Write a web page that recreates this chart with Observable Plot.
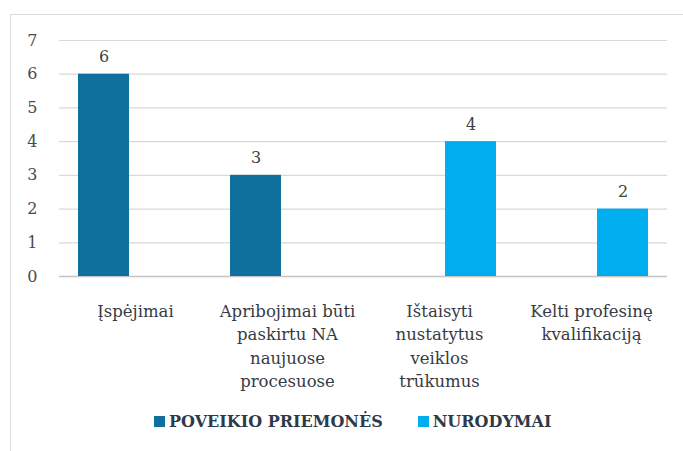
<!DOCTYPE html>
<html>
<head>
<meta charset="utf-8">
<script src="https://cdn.jsdelivr.net/npm/d3@7"></script>
<script src="https://cdn.jsdelivr.net/npm/@observablehq/plot@0.6"></script>
<style>
  html, body { margin: 0; padding: 0; background: #fff; }
  body { width: 683px; height: 451px; position: relative; overflow: hidden; font-family: "DejaVu Serif", serif; }
  #frame { position: absolute; left: 10px; top: 14px; width: 700px; height: 460px; border-top: 1px solid #dcdcdc; border-left: 1px solid #dcdcdc; }
  #chart { position: absolute; left: 0; top: 0; }
  #legend { position: absolute; left: 154px; top: 412px; display: flex; align-items: center; font-weight: bold; font-size: 16px; color: #2e3a4a; white-space: nowrap; }
  #legend .sw { display: inline-block; width: 11px; height: 11px; margin-right: 4px; }
  #legend .item { display: flex; align-items: center; margin-right: 35px; }
</style>
</head>
<body>
<div id="frame"></div>
<div id="chart"></div>
<div id="legend"></div>
<script>
const categories = ["Įspėjimai", "Apribojimai būti paskirtu NA naujuose procesuose", "Ištaisyti nustatytus veiklos trūkumus", "Kelti profesinę kvalifikaciją"];
const categoryLabels = ["Įspėjimai", "Apribojimai būti\npaskirtu NA\nnaujuose\nprocesuose", "Ištaisyti\nnustatytus\nveiklos\ntrūkumus", "Kelti profesinę\nkvalifikaciją"];
const series = ["POVEIKIO PRIEMONĖS", "NURODYMAI"];
const colors = ["#0f6f9d", "#00adee"];
const poveikioPriemones = [6, 3, null, null];
const nurodymai = [null, null, 4, 2];
const yTicks = [0, 1, 2, 3, 4, 5, 6, 7];

const rows = categories.flatMap((c, i) => [
  {category: c, series: series[0], value: poveikioPriemones[i]},
  {category: c, series: series[1], value: nurodymai[i]}
]);
const labelled = rows.filter(d => d.value != null);

const plot = Plot.plot({
  width: 683,
  height: 395,
  marginTop: 40,
  marginLeft: 57,
  marginRight: 15,
  marginBottom: 119,
  style: {fontFamily: "DejaVu Serif, serif", fontSize: "16px", color: "#4a4a4a", background: "transparent"},
  fx: {domain: categories, padding: 0, axis: null},
  x: {domain: series, paddingInner: 0.19, paddingOuter: 0.3, axis: null},
  y: {domain: [0, 7], ticks: yTicks, tickSize: 0, tickPadding: 22, label: null, tickFormat: d3.format("d")},
  color: {domain: series, range: colors},
  marks: [
    Plot.ruleY(yTicks.slice(1), {stroke: "#d9d9d9", strokeWidth: 1.2}),
    Plot.ruleY([0], {stroke: "#c4c4c4", strokeWidth: 1.6}),
    Plot.barY(rows, {fx: "category", x: "series", y: "value", fill: "series"}),
    Plot.text(labelled, {fx: "category", x: "series", y: "value", text: d => String(d.value), dy: -17, fontSize: 16, fill: "#404040"}),
    Plot.text(categories, {fx: d => d, text: (d, i) => categoryLabels[i], frameAnchor: "bottom", lineAnchor: "top", dy: 24, lineHeight: 1.41, fontSize: 16.5, fill: "#363b44"})
  ]
});
document.getElementById("chart").appendChild(plot);

const legend = document.getElementById("legend");
series.forEach((s, i) => {
  const item = document.createElement("div");
  item.className = "item";
  const sw = document.createElement("span");
  sw.className = "sw";
  sw.style.background = colors[i];
  const t = document.createElement("span");
  t.textContent = s;
  item.appendChild(sw);
  item.appendChild(t);
  legend.appendChild(item);
});
</script>
</body>
</html>
